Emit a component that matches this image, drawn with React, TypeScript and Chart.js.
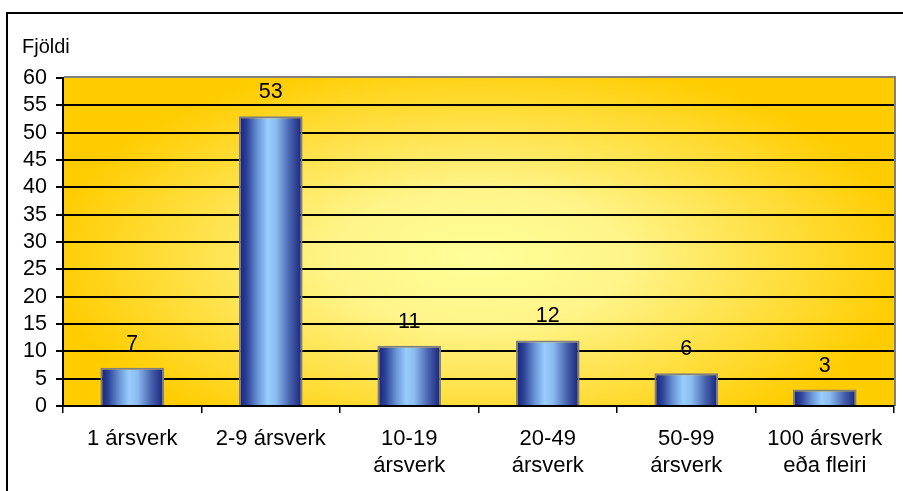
import React, { useEffect, useRef } from "react";
import { Chart, registerables } from "chart.js";

Chart.register(...registerables);

const categories: (string | string[])[] = [
  "1 ársverk",
  "2-9 ársverk",
  ["10-19", "ársverk"],
  ["20-49", "ársverk"],
  ["50-99", "ársverk"],
  ["100 ársverk", "eða fleiri"],
];
const values: number[] = [7, 53, 11, 12, 6, 3];
const yAxisTitle = "Fjöldi";
const yMin = 0;
const yMax = 60;
const yStep = 5;

const FONT = "Arial, 'Liberation Sans', sans-serif";
const BAR_PCT = 0.46;

export default function App() {
  const ref = useRef<HTMLCanvasElement | null>(null);

  useEffect(() => {
    const canvas = ref.current;
    if (!canvas) return;

    const decor = {
      id: "decor",
      beforeDraw(chart: any) {
        const { ctx, chartArea: a } = chart;
        ctx.save();
        ctx.fillStyle = "#ffffff";
        ctx.fillRect(0, 0, chart.width, chart.height);
        // outer frame
        ctx.fillStyle = "#000000";
        ctx.fillRect(6, 12, 2, chart.height);
        ctx.fillRect(6, 12, chart.width, 2);
        // plot shadow
        ctx.fillStyle = "#808080";
        ctx.fillRect(a.left + 1, a.top - 2, a.width + 1, 3);
        ctx.fillRect(a.right - 1, a.top - 2, 3, a.height + 2);
        // gradient background
        const cx = a.left + a.width * 0.5;
        const cy = a.top + a.height * 0.55;
        const rx = a.width * 0.52;
        const ry = a.height * 0.62;
        ctx.save();
        ctx.beginPath();
        ctx.rect(a.left, a.top, a.width, a.height);
        ctx.clip();
        ctx.translate(cx, cy);
        ctx.scale(rx / ry, 1);
        const g = ctx.createRadialGradient(0, 0, 0, 0, 0, ry);
        g.addColorStop(0, "#ffff99");
        g.addColorStop(0.35, "#fff488");
        g.addColorStop(1, "#ffcc00");
        ctx.fillStyle = g;
        ctx.fillRect(-rx * 2, -ry * 2, rx * 4, ry * 4);
        ctx.restore();
        // y title
        ctx.fillStyle = "#000000";
        ctx.font = `20px ${FONT}`;
        ctx.textAlign = "left";
        ctx.textBaseline = "middle";
        ctx.fillText(yAxisTitle, 22, 47);
        ctx.restore();
      },
      afterDatasetsDraw(chart: any) {
        const { ctx } = chart;
        const meta = chart.getDatasetMeta(0);
        ctx.save();
        ctx.fillStyle = "#000000";
        ctx.font = `21.5px ${FONT}`;
        ctx.textAlign = "center";
        ctx.textBaseline = "middle";
        meta.data.forEach((el: any, i: number) => {
          ctx.fillText(String(values[i]), el.x, el.y - 24);
        });
        ctx.restore();
      },
    };

    const barFill = (c: any) => {
      const chart = c.chart;
      const a = chart.chartArea;
      if (!a) return "#6f8fd0";
      const xs = chart.scales.x;
      const center = xs.getPixelForValue(c.dataIndex);
      const w = (a.width / categories.length) * BAR_PCT;
      const g = chart.ctx.createLinearGradient(center - w / 2, 0, center + w / 2, 0);
      g.addColorStop(0, "#172078");
      g.addColorStop(0.12, "#2b4096");
      g.addColorStop(0.3, "#6a96d6");
      g.addColorStop(0.45, "#99ccff");
      g.addColorStop(0.58, "#8cbcf0");
      g.addColorStop(0.8, "#4763ad");
      g.addColorStop(1, "#172078");
      return g;
    };

    const chart = new Chart(canvas, {
      type: "bar",
      data: {
        labels: categories,
        datasets: [
          {
            data: values,
            backgroundColor: barFill,
            borderColor: "#808080",
            borderWidth: { top: 2, left: 2, right: 2, bottom: 0 },
            borderSkipped: false,
            barPercentage: BAR_PCT,
            categoryPercentage: 1,
          },
        ],
      },
      options: {
        responsive: false,
        animation: false,
        layout: { padding: { top: 78, right: 9, left: 0, bottom: 0 } },
        plugins: {
          legend: { display: false },
          tooltip: { enabled: false },
          title: { display: false },
        },
        scales: {
          x: {
            afterFit: (s: any) => {
              s.height = 85;
            },
            grid: {
              offset: true,
              drawOnChartArea: false,
              drawTicks: true,
              tickLength: 7,
              color: "#000000",
              lineWidth: 1.5,
            },
            border: { display: true, color: "#000000", width: 2 },
            ticks: {
              color: "#000000",
              font: { family: FONT, size: 22, lineHeight: "27px" },
              padding: 12,
              maxRotation: 0,
              autoSkip: false,
            },
          },
          y: {
            min: yMin,
            max: yMax,
            afterFit: (s: any) => {
              s.width = 63;
            },
            grid: {
              drawTicks: true,
              tickLength: 7,
              color: (c: any) =>
                c.tick && c.tick.value === yMax ? "rgba(0,0,0,0)" : "#000000",
              tickColor: "#000000",
              lineWidth: 2,
            },
            border: { display: true, color: "#000000", width: 2 },
            ticks: {
              stepSize: yStep,
              autoSkip: false,
              color: "#000000",
              font: { family: FONT, size: 21.5, lineHeight: 1 },
              padding: 9,
            },
          },
        },
      },
      plugins: [decor],
    });

    return () => chart.destroy();
  }, []);

  return (
    <div style={{ position: "fixed", left: 0, top: 0, width: 903, height: 491 }}>
      <canvas ref={ref} width={903} height={491} />
    </div>
  );
}
